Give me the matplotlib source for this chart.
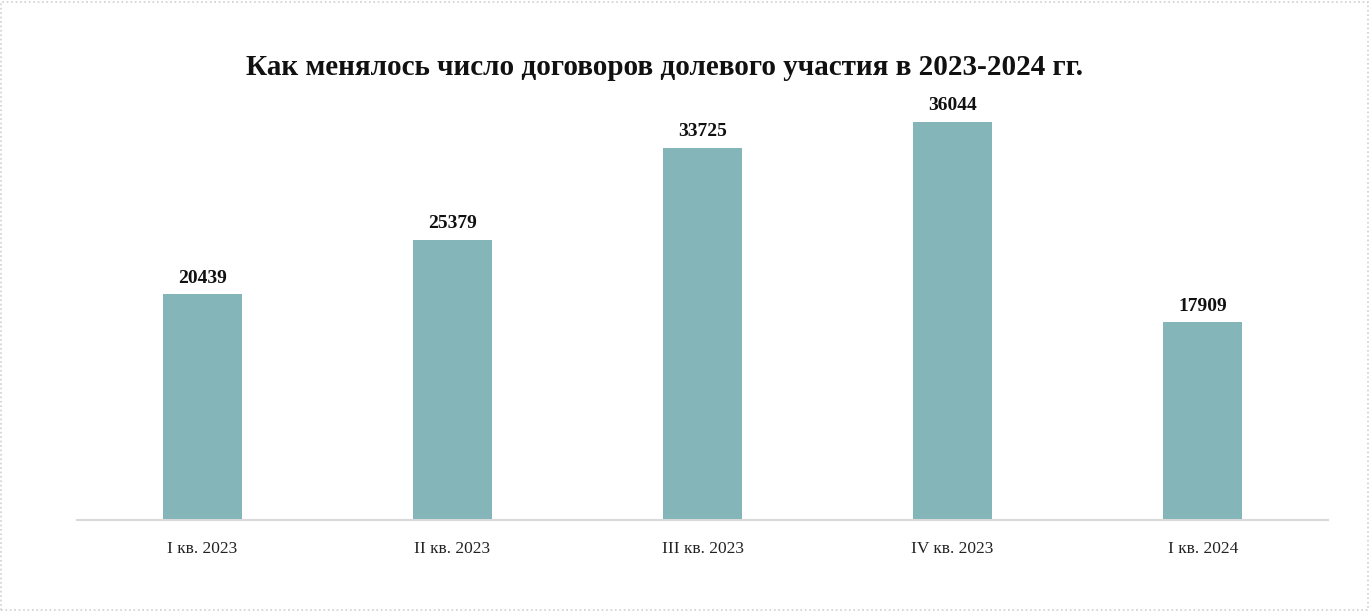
import matplotlib.pyplot as plt
from matplotlib.patches import Rectangle

quarters = ["I кв. 2023", "II кв. 2023", "III кв. 2023", "IV кв. 2023", "I кв. 2024"]
contracts = [20439, 25379, 33725, 36044, 17909]

plt.rcParams['font.family'] = ['Liberation Serif', 'DejaVu Serif']

fig = plt.figure(figsize=(13.71, 6.11), dpi=100)
ax = fig.add_axes([0.0562, 0.1489, 0.9124, 0.6874])

x = range(len(quarters))
bars = ax.bar(x, contracts, width=0.316, color="#84B5B9")

for b, v in zip(bars, contracts):
    ax.annotate(str(v), (b.get_x() + b.get_width() / 2, v),
                xytext=(0, 5.5), textcoords="offset points",
                ha="center", va="bottom", fontsize=14, fontweight="bold", color="#111111")

ax.set_xlim(-0.5, 4.5)
ax.set_ylim(0, 38040)
ax.set_xticks(list(x))
ax.set_xticklabels(quarters, fontsize=12.5, color="#222222")
ax.tick_params(axis="x", length=0, pad=15)
ax.set_yticks([])
for s in ["top", "right", "left"]:
    ax.spines[s].set_visible(False)
ax.spines["bottom"].set_color("#d9d9d9")
ax.spines["bottom"].set_linewidth(1.5)

fig.text(0.485, 0.890, "Как менялось число договоров долевого участия в 2023-2024 гг.",
         ha="center", va="center", fontsize=21, fontweight="bold", color="#111111")

fig.patches.append(Rectangle((0.001, 0.002), 0.997, 0.995, transform=fig.transFigure,
                             fill=False, edgecolor="#cfcfcf", linewidth=1.2, linestyle=":"))

fig.savefig("out.png", dpi=100)
